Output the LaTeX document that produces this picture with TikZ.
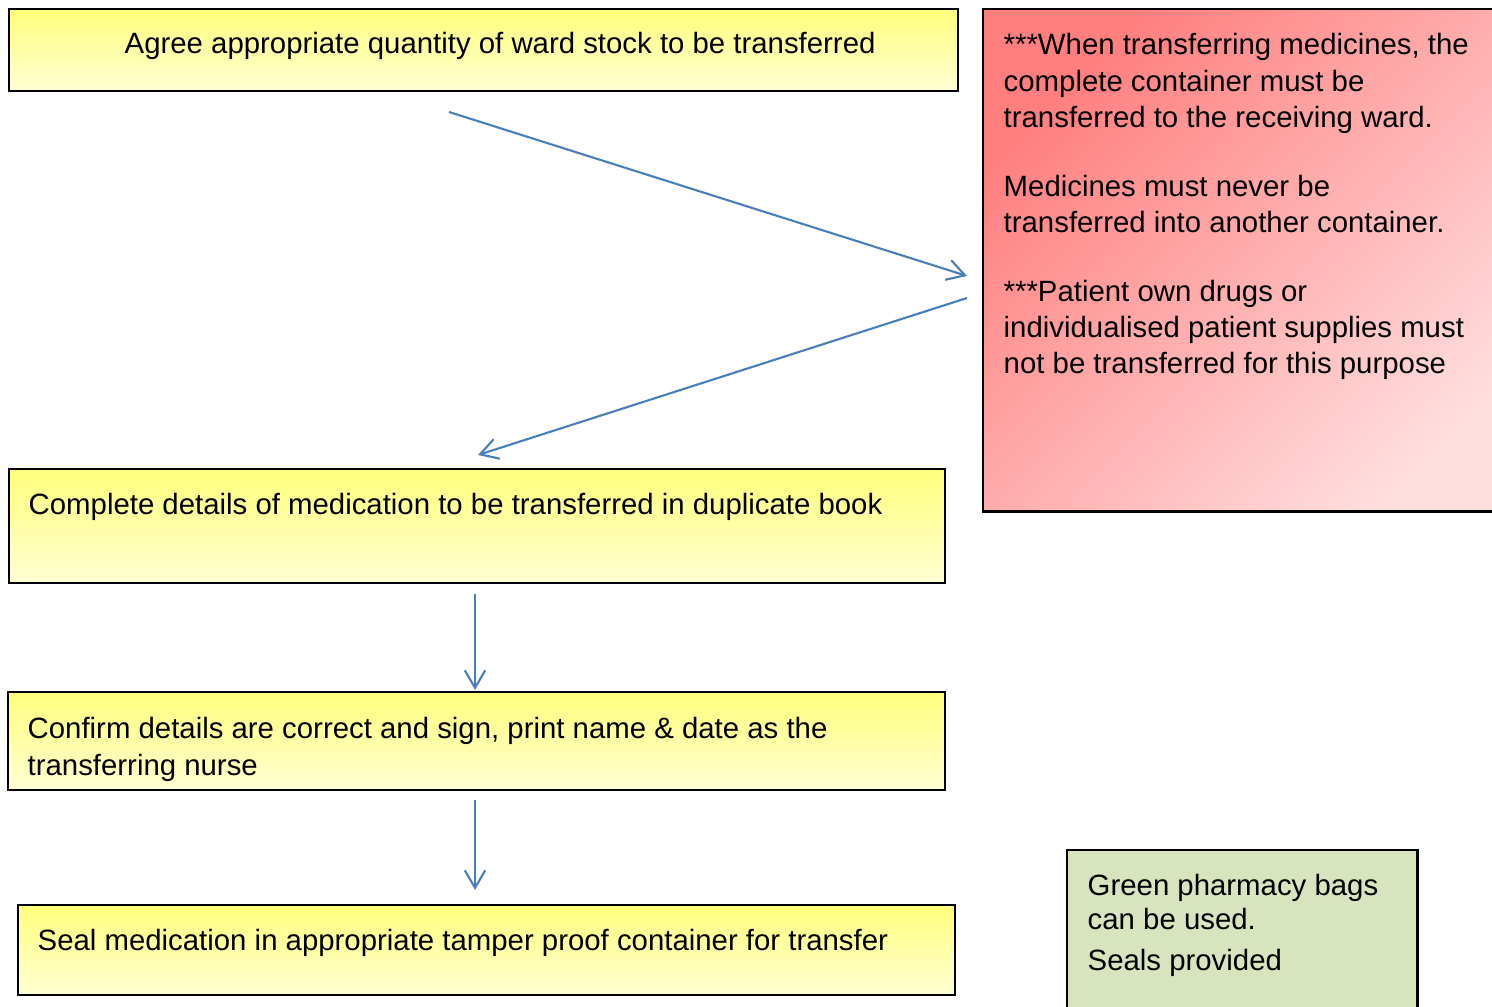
\documentclass[tikz,border=0pt]{standalone}
\usepackage{fontspec}
\setmainfont{Liberation Sans}
\usepackage{xcolor}
\usepackage{tikz}
\usetikzlibrary{arrows.meta, positioning}
\definecolor{StepTop}{HTML}{FFFF7C}
\definecolor{StepBottom}{HTML}{FFFFD4}
\definecolor{NoteTop}{HTML}{FF7E7E}
\definecolor{NoteBottom}{HTML}{FFDEDE}
\definecolor{BagGreen}{HTML}{D7E4BD}
\definecolor{FlowBlue}{HTML}{4A7EBB}
\newcommand{\stepfont}{\fontsize{8.35pt}{10.3pt}\selectfont}
\newcommand{\bagfont}{\fontsize{8.35pt}{9.4pt}\selectfont}
\tikzset{
  step box/.style={draw=black, line width=0.65pt, inner sep=0pt,
                   anchor=north west, top color=StepTop,
                   bottom color=StepBottom},
  note box/.style={step box, top color=NoteTop, bottom color=NoteBottom,
                   shading angle=45},
  bag box/.style={draw=black, line width=0.65pt, inner sep=0pt,
                  anchor=north west, fill=BagGreen},
  step text/.style={font=\stepfont, align=left, inner sep=0pt,
                    anchor=north west},
  flow arrow/.style={-{Straight Barb[length=5pt, width=5.8pt]},
                     draw=FlowBlue, line width=0.6pt},
}

\begin{document}
\begin{tikzpicture}[x=0.01cm, y=-0.01cm]
  \useasboundingbox (0,0) rectangle (1492,1007);
  % boxes
  \node[step box, minimum width=9.48cm, minimum height=0.82cm] (agree) at (8,8) {};
  \node[step box, minimum width=9.35cm, minimum height=1.14cm] (details) at (8,468) {};
  \node[step box, minimum width=9.36cm, minimum height=0.98cm] (confirm) at (7,691) {};
  \node[step box, minimum width=9.36cm, minimum height=0.90cm] (seal) at (17,904) {};
  \node[note box, minimum width=5.40cm, minimum height=5.02cm] (warning) at (982,8) {};
  \node[bag box, minimum width=3.50cm, minimum height=1.80cm] (bags) at (1066,849) {};
  % texts
  \node[step text] (agreetxt) at (124,32) {Agree appropriate quantity of ward stock to be transferred};
  \node[step text] (detailstxt) at (28,493) {Complete details of medication to be transferred in duplicate book};
  \node[step text] (confirmtxt) at (27,717) {Confirm details are correct and sign, print name \& date as the\\transferring nurse};
  \node[step text] (sealtxt) at (37,929) {Seal medication in appropriate tamper proof container for transfer};
  \node[step text] (warningtxt) at (1003,33) {***When transferring medicines, the\\complete container must be\\transferred to the receiving ward.\\[9.3pt]Medicines must never be\\transferred into another container.\\[9.3pt]***Patient own drugs or\\individualised patient supplies must\\not be transferred for this purpose};
  \node[step text, font=\bagfont] (bagstxt) at (1087,874) {Green pharmacy bags\\can be used.\\[2.5pt]Seals provided};
  % connectors
  \coordinate (agreeout) at (449,112);
  \coordinate (warnin) at (967,276);
  \coordinate (warnout) at (967,298);
  \coordinate (detailsin) at (478,455);
  \coordinate (detailsout) at (475,594);
  \coordinate (confirmin) at (475,690);
  \coordinate (confirmout) at (475,800);
  \coordinate (sealin) at (475,890);
  \draw[flow arrow] (agreeout) -- (warnin);
  \draw[flow arrow] (warnout) -- (detailsin);
  \draw[flow arrow] (detailsout) -- (confirmin);
  \draw[flow arrow] (confirmout) -- (sealin);
\end{tikzpicture}
\end{document}
